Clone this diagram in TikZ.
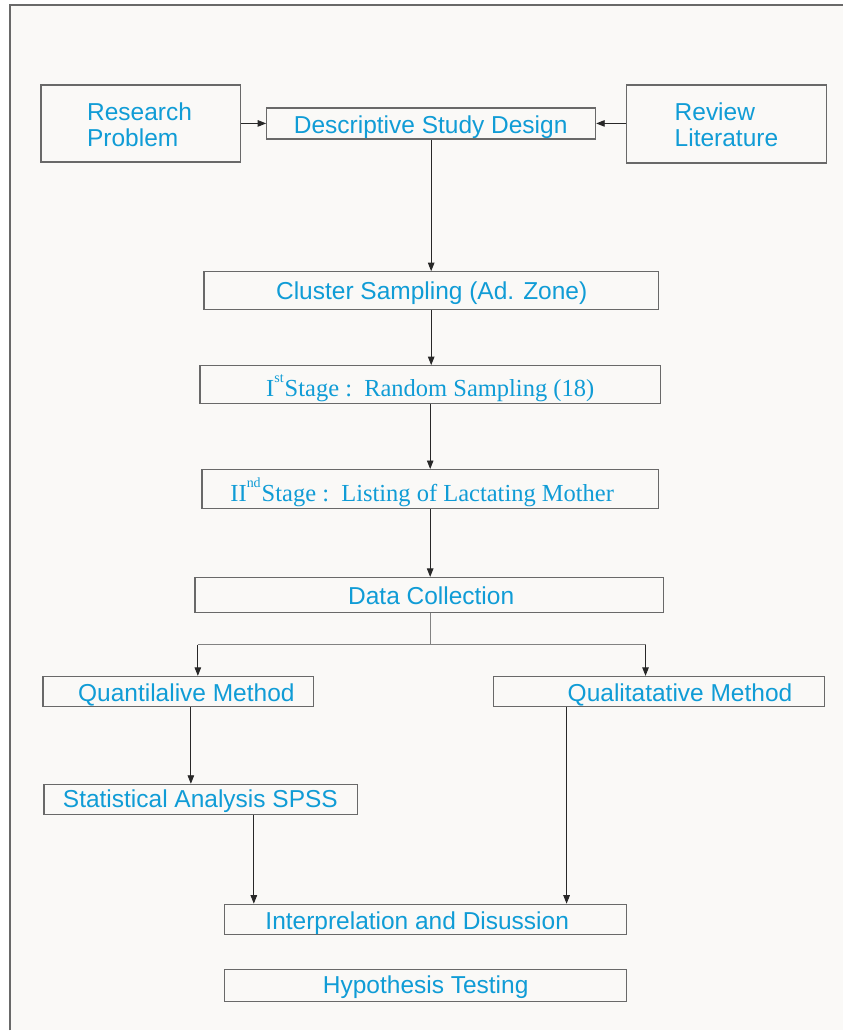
\documentclass[tikz,border=0pt]{standalone}
\usepackage{fontspec}
\setmainfont{Liberation Sans}
\newfontfamily\serifface{Liberation Serif}
\usetikzlibrary{arrows.meta}
\definecolor{txtblue}{RGB}{16,156,214}
\definecolor{bordergray}{RGB}{105,105,105}
\definecolor{bgcol}{RGB}{250,249,247}
\definecolor{linedark}{RGB}{40,40,40}
\definecolor{linkgray}{RGB}{130,130,130}
\newcommand{\supsc}[1]{\raisebox{13.5pt}{\fontsize{14}{14}\selectfont #1}\hspace{1pt}}
\begin{document}
\begin{tikzpicture}[x=1pt,y=-1pt,
  box/.style={draw=bordergray, line width=1.3pt, fill=bgcol, inner sep=0pt},
  txt/.style={text=txtblue, font=\fontsize{24.5}{26}\selectfont, inner sep=0pt, anchor=base},
  stxt/.style={text=txtblue, font=\serifface\fontsize{24.5}{26}\selectfont, inner sep=0pt, anchor=base},
  arr/.style={draw=linedark, line width=0.9pt, -{Triangle[length=8.5pt,width=6.5pt]}},
  link/.style={draw=linkgray, line width=1.4pt}]
\fill[white] (0,0) rectangle (844,1031);
\fill[bgcol] (10,5) rectangle (844,1031);
\draw[bordergray, line width=1.5pt] (10,1031) -- (10,5) -- (844,5);
\useasboundingbox (0,0) rectangle (844,1031);

% boxes
\node[box, minimum width=200pt, minimum height=77pt] (rp) at (141,123.5) {};
\node[box, minimum width=200pt, minimum height=78pt] (rl) at (727,124) {};
\node[box, minimum width=329pt, minimum height=31pt] (dsd) at (431.5,123.5) {};
\node[box, minimum width=455pt, minimum height=38pt] (cs) at (431.5,291) {};
\node[box, minimum width=461pt, minimum height=38pt] (s1) at (430.5,385) {};
\node[box, minimum width=457pt, minimum height=39pt] (s2) at (430.5,489.5) {};
\node[box, minimum width=469pt, minimum height=35pt] (dc) at (429.5,595.5) {};
\node[box, minimum width=271pt, minimum height=30pt] (qn) at (178.5,692) {};
\node[box, minimum width=331pt, minimum height=30pt] (ql) at (659.5,692) {};
\node[box, minimum width=314pt, minimum height=30pt] (sa) at (201,800) {};
\node[box, minimum width=402pt, minimum height=30pt] (in) at (426,920) {};
\node[box, minimum width=402pt, minimum height=32pt] (ht) at (426,986) {};

% texts
\node[txt, anchor=base west] (rpa) at (87,120.5) {Research};
\node[txt, anchor=base west] (rpb) at (87,146.5) {Problem};
\node[txt, anchor=base west] (rla) at (675,120.5) {Review};
\node[txt, anchor=base west] (rlb) at (675,147) {Literature};
\node[txt] (dsdt) at (431,133.5) {Descriptive Study Design};
\node[txt] (cst) at (432,299.5) {Cluster Sampling (Ad. Zone)};
\node[stxt] (s1t) at (430.5,396.5) {I\supsc{st}Stage :~~Random Sampling (18)};
\node[stxt] (s2t) at (422.5,501.5) {II\supsc{nd}Stage :~~Listing of Lactating Mother};
\node[txt] (dct) at (431.5,605) {Data Collection};
\node[txt] (qnt) at (186.5,701.5) {Quantilalive Method};
\node[txt] (qlt) at (680.5,701.5) {Qualitatative Method};
\node[txt] (sat) at (200.5,808) {Statistical Analysis SPSS};
\node[txt] (int) at (417.5,930.5) {Interprelation and Disussion};
\node[txt] (htt) at (426,994.5) {Hypothesis Testing};

% helper coordinates
\coordinate (bm) at (431,645);
\coordinate (bl) at (198,645);
\coordinate (br) at (646,645);
\coordinate (qx) at (191,0);
\coordinate (sx) at (254,0);
\coordinate (lx) at (567,0);

% connectors
\draw[arr] (rp.east) -- (dsd.west |- rp.east);
\draw[arr] (rl.west |- dsd.east) -- (dsd.east);
\draw[arr] (dsd.south) -- (cs.north);
\draw[arr] (cs.south) -- (cs.south |- s1.north);
\draw[arr] (s1.south) -- (s2.north);
\draw[arr] (s2.south) -- (s2.south |- dc.north);
\draw[link] (dc.south -| bm) -- (bm);
\draw[link] (bl) -- (br);
\draw[arr] (bl) -- (bl |- qn.north);
\draw[arr] (br) -- (br |- ql.north);
\draw[arr] (qn.south -| qx) -- (sa.north -| qx);
\draw[arr] (sa.south -| sx) -- (in.north -| sx);
\draw[arr] (ql.south -| lx) -- (in.north -| lx);
\end{tikzpicture}
\end{document}
